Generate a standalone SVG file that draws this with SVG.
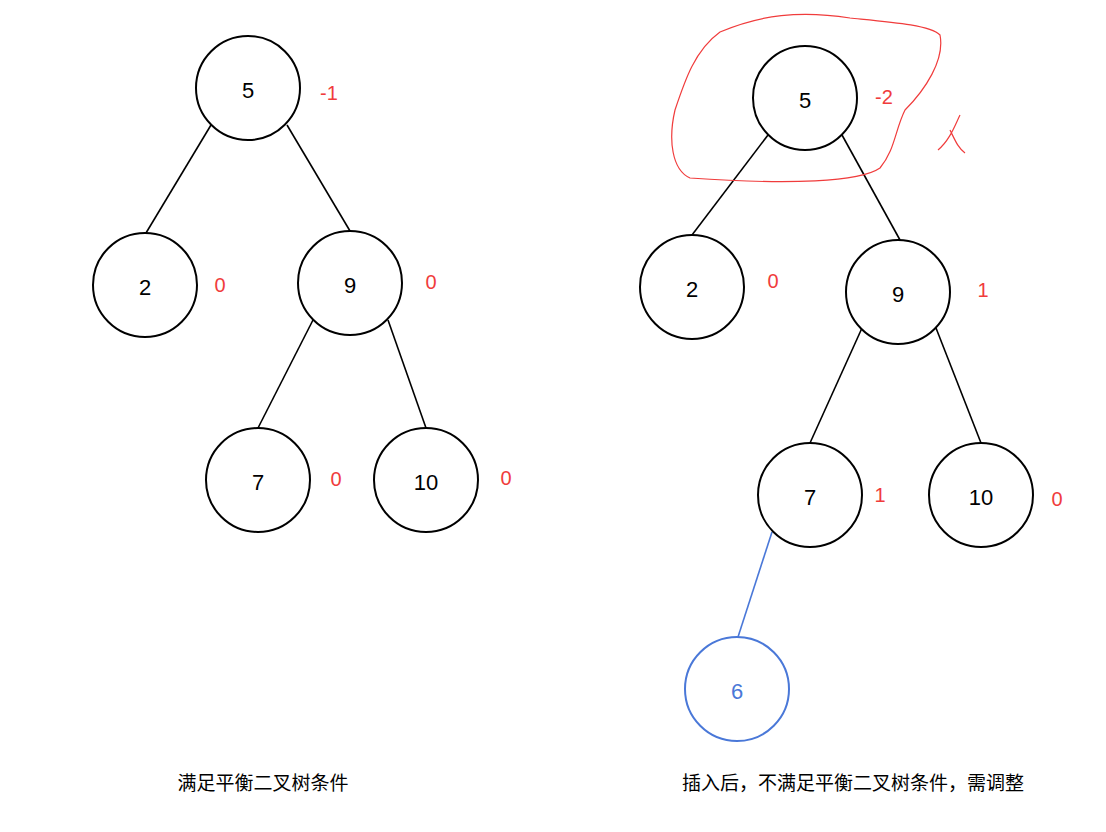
<svg xmlns="http://www.w3.org/2000/svg" width="1106" height="832" viewBox="0 0 1106 832">
<style>
.n{fill:#fff;stroke:#000;stroke-width:2}
.t{font-family:"Liberation Sans","Noto Sans CJK SC",sans-serif;font-size:22px;text-anchor:middle;dominant-baseline:central}
.r{fill:#f03c3c;font-size:20px}
.e{stroke:#000;stroke-width:1.6}
.cap{font-family:"Noto Sans CJK SC",sans-serif;font-size:19px;text-anchor:middle}
</style>
<rect width="1106" height="832" fill="#fff"/>
<g id="connectors">
<line class="e" x1="211" y1="125" x2="146" y2="233"/>
<line class="e" x1="287" y1="125" x2="350" y2="231"/>
<line class="e" x1="313" y1="320" x2="258" y2="428"/>
<line class="e" x1="388" y1="320" x2="426" y2="428"/>
<line class="e" x1="768" y1="135" x2="692" y2="235"/>
<line class="e" x1="842" y1="135" x2="900" y2="240"/>
<line class="e" x1="862" y1="328" x2="810" y2="443"/>
<line class="e" x1="936" y1="328" x2="981" y2="443"/>
<line x1="772" y1="532" x2="738" y2="637" stroke="#4a78d8" stroke-width="1.6"/>
</g>
<g id="L5"><circle class="n" cx="248" cy="88" r="52"/><text class="t" x="248" y="90">5</text><text class="t r" x="329" y="93">-1</text></g>
<g id="L2"><circle class="n" cx="145" cy="285" r="52"/><text class="t" x="145" y="287">2</text><text class="t r" x="220" y="285">0</text></g>
<g id="L9"><circle class="n" cx="350" cy="283" r="52"/><text class="t" x="350" y="285">9</text><text class="t r" x="431" y="282">0</text></g>
<g id="L7"><circle class="n" cx="258" cy="480" r="52"/><text class="t" x="258" y="482">7</text><text class="t r" x="336" y="479">0</text></g>
<g id="L10"><circle class="n" cx="426" cy="480" r="52"/><text class="t" x="426" y="482">10</text><text class="t r" x="506" y="478">0</text></g>
<g id="R5"><circle class="n" cx="805" cy="98" r="52"/><text class="t" x="805" y="100">5</text><text class="t r" x="884" y="97">-2</text></g>
<g id="R2"><circle class="n" cx="692" cy="287" r="52"/><text class="t" x="692" y="289">2</text><text class="t r" x="773" y="281">0</text></g>
<g id="R9"><circle class="n" cx="898" cy="292" r="52"/><text class="t" x="898" y="294">9</text><text class="t r" x="983" y="290">1</text></g>
<g id="R7"><circle class="n" cx="810" cy="495" r="52"/><text class="t" x="810" y="497">7</text><text class="t r" x="880" y="495">1</text></g>
<g id="R10"><circle class="n" cx="981" cy="495" r="52"/><text class="t" x="981" y="497">10</text><text class="t r" x="1057" y="499">0</text></g>
<g id="R6"><circle cx="737" cy="689" r="52" fill="#fff" stroke="#4a78d8" stroke-width="2"/><text class="t" x="737" y="691" fill="#4a78d8">6</text></g>
<g id="mark" fill="none" stroke="#f03c3c" stroke-width="1.2">
<path d="M720,32 C760,15 800,10 850,18 C890,22 930,25 940,35 C945,60 925,90 905,110 C895,130 895,150 880,168 C860,182 790,185 690,178 C672,170 668,140 675,110 C685,80 695,50 720,32 Z"/>
<path d="M938,150 C950,140 955,125 960,115 M950,130 C955,140 958,148 965,153"/>
</g>
<text class="cap" x="263" y="790">满足平衡二叉树条件</text>
<text class="cap" x="853" y="790">插入后，不满足平衡二叉树条件，需调整</text>
</svg>
